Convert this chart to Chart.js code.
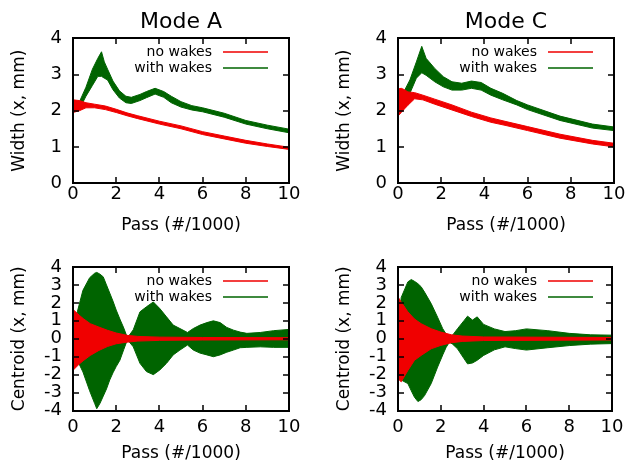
<!DOCTYPE html>
<html>
<head>
<meta charset="utf-8">
<script src="https://cdn.jsdelivr.net/npm/chart.js@4.4.1/dist/chart.umd.min.js"></script>
<style>
  body { margin: 0; background: #fff; }
  #wrap { position: relative; width: 630px; height: 466px; }
  canvas { position: absolute; }
</style>
</head>
<body>
<div id="wrap">
  <canvas id="widthA" width="315" height="240" style="left:0;top:0"></canvas>
  <canvas id="widthC" width="315" height="240" style="left:315px;top:0"></canvas>
  <canvas id="centA" width="315" height="226" style="left:0;top:240px"></canvas>
  <canvas id="centC" width="315" height="226" style="left:315px;top:240px"></canvas>
</div>
<script>
// series names and tick labels
const seriesNames = ['no wakes', 'with wakes'];
const passTicks = [0, 2, 4, 6, 8, 10];
const widthTicks = [0, 1, 2, 3, 4];
const centroidTicks = [-4, -3, -2, -1, 0, 1, 2, 3, 4];

// Mode A width: noisy band, upper / lower edge
const wA_noX  = [0, 0.3, 0.6, 1.0, 1.5, 2.0, 2.5, 3.0, 4.0, 5.0, 6.0, 7.0, 8.0, 9.0, 10.0];
const wA_noHi = [2.3, 2.28, 2.22, 2.18, 2.13, 2.04, 1.94, 1.86, 1.71, 1.58, 1.42, 1.3, 1.18, 1.08, 0.99];
const wA_noLo = [1.95, 2.0, 2.08, 2.08, 2.03, 1.95, 1.86, 1.78, 1.63, 1.5, 1.34, 1.22, 1.1, 1.01, 0.93];
const wA_wkX  = [0, 0.3, 0.6, 0.9, 1.15, 1.32, 1.45, 1.6, 1.85, 2.15, 2.45, 2.7, 3.1, 3.4, 3.8, 4.2, 4.55, 5.0, 5.5, 6.0, 7.0, 8.0, 9.0, 10.0];
const wA_wkHi = [2.15, 2.25, 2.65, 3.15, 3.45, 3.63, 3.35, 3.15, 2.82, 2.55, 2.4, 2.37, 2.45, 2.53, 2.62, 2.53, 2.4, 2.25, 2.14, 2.08, 1.93, 1.73, 1.6, 1.49];
const wA_wkLo = [2.0, 2.05, 2.4, 2.7, 2.95, 2.95, 2.9, 2.85, 2.58, 2.35, 2.22, 2.2, 2.28, 2.36, 2.46, 2.37, 2.22, 2.1, 2.02, 1.97, 1.82, 1.63, 1.5, 1.39];

// Mode C width
const wC_noX  = [0, 0.15, 0.3, 0.46, 0.77, 1.15, 1.7, 2.5, 3.4, 4.3, 5.0, 6.0, 7.5, 9.0, 10.0];
const wC_noHi = [2.6, 2.62, 2.58, 2.52, 2.5, 2.43, 2.32, 2.16, 1.96, 1.8, 1.7, 1.56, 1.35, 1.18, 1.1];
const wC_noLo = [1.85, 1.95, 2.05, 2.15, 2.33, 2.3, 2.18, 2.02, 1.84, 1.68, 1.59, 1.45, 1.24, 1.08, 1.0];
const wC_wkX  = [0, 0.25, 0.55, 0.85, 1.1, 1.3, 1.7, 2.1, 2.5, 2.95, 3.4, 3.85, 4.3, 4.85, 5.5, 6.0, 7.5, 9.0, 10.0];
const wC_wkHi = [2.45, 2.5, 2.85, 3.35, 3.78, 3.45, 3.17, 2.94, 2.8, 2.76, 2.82, 2.78, 2.62, 2.48, 2.28, 2.16, 1.85, 1.63, 1.55];
const wC_wkLo = [2.2, 2.05, 2.48, 2.9, 3.05, 2.98, 2.8, 2.66, 2.57, 2.57, 2.62, 2.57, 2.43, 2.3, 2.16, 2.03, 1.73, 1.52, 1.45];

// Mode A centroid: oscillation envelope (top / bottom)
const cA_noX  = [0, 0.05, 0.3, 0.5, 0.8, 1.2, 1.6, 2.0, 2.5, 3.0, 4.0, 6.0, 10.0];
const cA_noHi = [1.55, 1.58, 1.3, 1.1, 0.84, 0.65, 0.47, 0.32, 0.19, 0.13, 0.09, 0.07, 0.06];
const cA_noLo = [-1.65, -1.7, -1.4, -1.2, -0.93, -0.65, -0.43, -0.28, -0.19, -0.13, -0.09, -0.07, -0.06];
const cA_wkX  = [0, 0.2, 0.46, 0.77, 1.0, 1.1, 1.25, 1.4, 1.55, 1.7, 1.85, 2.0, 2.17, 2.35, 2.52, 2.79, 3.1, 3.4, 3.72, 4.02,
                 4.33, 4.64, 4.95, 5.3, 5.57, 5.88, 6.2, 6.5, 6.81, 7.12, 7.43, 7.74, 8.05, 8.67, 9.29, 10.0];
const cA_wkHi = [0.3, 1.5, 2.7, 3.4, 3.65, 3.7, 3.6, 3.45, 3.0, 2.55, 2.1, 1.6, 1.1, 0.6, 0.05, 0.5, 1.5, 1.78, 2.05, 1.68,
                 1.22, 0.76, 0.57, 0.35, 0.57, 0.76, 0.9, 1.0, 0.9, 0.63, 0.48, 0.37, 0.3, 0.35, 0.45, 0.52];
const cA_wkLo = [-0.3, -1.2, -1.85, -2.9, -3.6, -3.9, -3.6, -3.2, -2.8, -2.3, -1.9, -1.55, -1.2, -0.6, -0.05, -0.45, -1.37, -1.83, -2.0, -1.74,
                 -1.37, -0.9, -0.63, -0.35, -0.63, -0.8, -0.9, -1.0, -0.9, -0.75, -0.63, -0.5, -0.48, -0.45, -0.48, -0.48];

// Mode C centroid
const cC_noX  = [0, 0.15, 0.46, 0.77, 1.08, 1.55, 2.0, 2.5, 3.0, 4.0, 10.0];
const cC_noHi = [2.33, 2.05, 1.5, 1.1, 0.84, 0.56, 0.37, 0.22, 0.15, 0.1, 0.07];
const cC_noLo = [-2.23, -2.4, -1.77, -1.2, -0.93, -0.56, -0.37, -0.22, -0.15, -0.1, -0.07];
const cC_wkX  = [0, 0.15, 0.46, 0.62, 0.77, 0.93, 1.08, 1.24, 1.55, 1.85, 2.09, 2.24, 2.4, 2.55, 2.78, 3.09, 3.25, 3.48, 3.7, 4.0,
                 4.5, 5.0, 5.5, 6.0, 7.0, 8.0, 9.0, 10.0];
const cC_wkHi = [0.3, 2.3, 3.17, 3.3, 3.2, 3.07, 2.9, 2.6, 1.96, 1.2, 0.56, 0.28, 0.1, 0.2, 0.56, 1.02, 1.26, 1.04, 1.22, 0.8,
                 0.55, 0.4, 0.45, 0.55, 0.45, 0.3, 0.22, 0.2];
const cC_wkLo = [-0.3, -2.3, -2.5, -2.9, -3.26, -3.5, -3.4, -3.17, -2.5, -1.58, -0.9, -0.5, -0.19, -0.3, -0.56, -1.12, -1.4, -1.35, -1.2, -0.93,
                 -0.62, -0.45, -0.55, -0.63, -0.5, -0.38, -0.3, -0.27];

const RED = '#f00000';
const GREEN = '#006400';
const FONT = 'DejaVu Sans';

Chart.defaults.font.family = FONT;
Chart.defaults.color = '#000';

function pts(xs, ys) {
  return xs.map((x, i) => ({ x: x, y: ys[i] }));
}

// two lines per series, the upper one filled down to the lower one
function band(xs, hi, lo, color) {
  return [
    { data: pts(xs, hi), borderColor: color, backgroundColor: color, borderWidth: 1, pointRadius: 0, fill: '+1' },
    { data: pts(xs, lo), borderColor: color, backgroundColor: color, borderWidth: 1, pointRadius: 0, fill: false }
  ];
}

// gnuplot-like box with inward ticks, then the key in the top right corner
const boxAndKey = {
  id: 'boxAndKey',
  afterDraw(chart) {
    const ctx = chart.ctx;
    const a = chart.chartArea;
    const xs = chart.scales.x;
    const ys = chart.scales.y;
    const L = Math.round(a.left), R = Math.round(a.right);
    const T = Math.round(a.top), B = Math.round(a.bottom);

    ctx.save();
    ctx.fillStyle = '#000000';
    ctx.fillRect(L - 1, T - 1, R - L + 2, 2);
    ctx.fillRect(L - 1, B - 1, R - L + 2, 2);
    ctx.fillRect(L - 1, T - 1, 2, B - T + 2);
    ctx.fillRect(R - 1, T - 1, 2, B - T + 2);
    passTicks.forEach(v => {
      const px = Math.round(xs.getPixelForValue(v));
      ctx.fillRect(px - 0.75, B - 6, 1.5, 6);
      ctx.fillRect(px - 0.75, T, 1.5, 6);
    });
    ys.ticks.forEach(t => {
      const py = Math.round(ys.getPixelForValue(t.value));
      ctx.fillRect(L, py - 0.75, 6, 1.5);
      ctx.fillRect(R - 6, py - 0.75, 6, 1.5);
    });

    const colors = [RED, GREEN];
    ctx.font = '14px "' + FONT + '"';
    ctx.textAlign = 'right';
    ctx.textBaseline = 'middle';
    seriesNames.forEach((name, i) => {
      const yy = Math.round(a.top + 14 + i * 16);
      ctx.fillStyle = '#000000';
      ctx.fillText(name, a.left + 139, yy);
      ctx.fillStyle = colors[i];
      ctx.fillRect(a.left + 150, yy - 0.75, 45, 1.5);
    });
    ctx.restore();
  }
};

function panel(id, cfg) {
  new Chart(document.getElementById(id), {
    type: 'line',
    data: {
      datasets: band(cfg.noX, cfg.noHi, cfg.noLo, RED).concat(band(cfg.wkX, cfg.wkHi, cfg.wkLo, GREEN))
    },
    options: {
      responsive: false,
      animation: false,
      events: [],
      layout: { padding: { left: cfg.padLeft, right: cfg.padRight, top: cfg.padTop, bottom: 0 } },
      plugins: {
        legend: { display: false },
        tooltip: { enabled: false },
        title: {
          display: !!cfg.title,
          text: cfg.title,
          fullSize: false,
          color: '#000',
          font: { size: 22, weight: 'normal' },
          padding: { top: 9.4, bottom: 2.6 }
        }
      },
      scales: {
        x: {
          type: 'linear',
          min: 0, max: 10,
          afterBuildTicks: s => { s.ticks = passTicks.map(v => ({ value: v })); },
          afterFit: s => { s.height = cfg.xHeight; },
          ticks: { font: { size: 18 }, padding: cfg.xTickPad, maxRotation: 0, autoSkip: false },
          grid: { display: false, drawTicks: false },
          border: { display: false },
          title: { display: true, text: 'Pass (#/1000)', font: { size: 17 }, padding: { top: 0, bottom: cfg.xTitlePad } }
        },
        y: {
          type: 'linear',
          min: cfg.yTicks[0], max: cfg.yTicks[cfg.yTicks.length - 1],
          afterBuildTicks: s => { s.ticks = cfg.yTicks.map(v => ({ value: v })); },
          afterFit: s => { s.width = 73; },
          ticks: { font: { size: 18 }, padding: 11, autoSkip: false },
          grid: { display: false, drawTicks: false },
          border: { display: false },
          title: { display: true, text: cfg.yLabel, font: { size: 17 }, padding: { top: 9.3, bottom: 0 } }
        }
      }
    },
    plugins: [boxAndKey]
  });
}

panel('widthA', {
  title: 'Mode A', yLabel: 'Width (x, mm)', yTicks: widthTicks,
  noX: wA_noX, noHi: wA_noHi, noLo: wA_noLo, wkX: wA_wkX, wkHi: wA_wkHi, wkLo: wA_wkLo,
  padLeft: 0, padRight: 26, padTop: 0, xHeight: 57, xTickPad: 0.5, xTitlePad: 3.8
});
panel('widthC', {
  title: 'Mode C', yLabel: 'Width (x, mm)', yTicks: widthTicks,
  noX: wC_noX, noHi: wC_noHi, noLo: wC_noLo, wkX: wC_wkX, wkHi: wC_wkHi, wkLo: wC_wkLo,
  padLeft: 10, padRight: 16, padTop: 0, xHeight: 57, xTickPad: 0.5, xTitlePad: 3.8
});
panel('centA', {
  title: '', yLabel: 'Centroid (x, mm)', yTicks: centroidTicks,
  noX: cA_noX, noHi: cA_noHi, noLo: cA_noLo, wkX: cA_wkX, wkHi: cA_wkHi, wkLo: cA_wkLo,
  padLeft: 0, padRight: 26, padTop: 27, xHeight: 55.5, xTickPad: 6.5, xTitlePad: 1.8
});
panel('centC', {
  title: '', yLabel: 'Centroid (x, mm)', yTicks: centroidTicks,
  noX: cC_noX, noHi: cC_noHi, noLo: cC_noLo, wkX: cC_wkX, wkHi: cC_wkHi, wkLo: cC_wkLo,
  padLeft: 10, padRight: 16, padTop: 27, xHeight: 55.5, xTickPad: 6.5, xTitlePad: 1.8
});
</script>
</body>
</html>
